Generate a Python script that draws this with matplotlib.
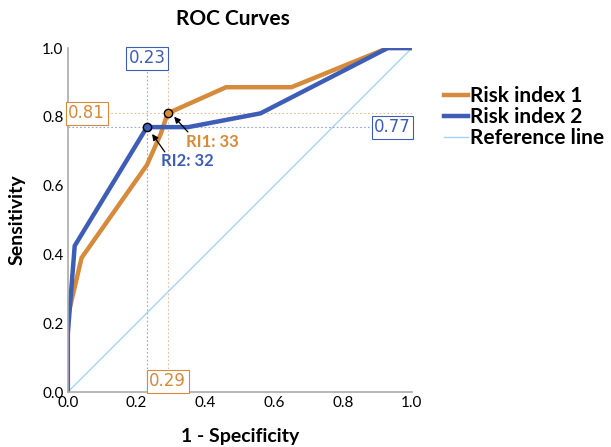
import matplotlib
matplotlib.use("Agg")
import matplotlib.pyplot as plt

plt.rcParams['font.family'] = ['Lato', 'DejaVu Sans']

# Data
ri1_fpr = [0.0, 0.0, 0.04, 0.23, 0.27, 0.29, 0.46, 0.65, 0.93, 1.0]
ri1_tpr = [0.0, 0.22, 0.39, 0.66, 0.75, 0.81, 0.886, 0.886, 1.0, 1.0]
ri2_fpr = [0.0, 0.0, 0.02, 0.23, 0.35, 0.56, 0.93, 1.0]
ri2_tpr = [0.0, 0.17, 0.425, 0.77, 0.77, 0.81, 1.0, 1.0]
ref_x = [0.0, 1.0]
ref_y = [0.0, 1.0]
labels = ["Risk index 1", "Risk index 2", "Reference line"]
ri1_cut = (0.29, 0.81)
ri2_cut = (0.23, 0.77)
ri1_text = "RI1: 33"
ri2_text = "RI2: 32"
ticks = [0.0, 0.2, 0.4, 0.6, 0.8, 1.0]

c1 = '#D58A3C'
c2 = '#3D5DB6'
c3 = '#A6D3F5'

fig = plt.figure(figsize=(6.11, 4.47), dpi=100)
ax = fig.add_axes([0.111, 0.123, 0.563, 0.7696])

# dotted guide lines
gl = dict(ls=(0, (1.5, 2)), lw=0.8, alpha=0.55)
ax.plot([ri2_cut[0], ri2_cut[0]], [0, 1], color=c2, **gl)
ax.plot([0, 1], [ri2_cut[1], ri2_cut[1]], color=c2, **gl)
ax.plot([ri1_cut[0], ri1_cut[0]], [0, 1], color=c1, **gl)
ax.plot([0, 1], [ri1_cut[1], ri1_cut[1]], color=c1, **gl)

l3, = ax.plot(ref_x, ref_y, color=c3, lw=1.0, label=labels[2])
l1, = ax.plot(ri1_fpr, ri1_tpr, color=c1, lw=3.2, label=labels[0], solid_joinstyle='miter')
l2, = ax.plot(ri2_fpr, ri2_tpr, color=c2, lw=3.2, label=labels[1], solid_joinstyle='miter')

ax.plot([ri1_cut[0]], [ri1_cut[1]], 'o', ms=6, mfc=c1, mec='black', mew=1.0, zorder=5)
ax.plot([ri2_cut[0]], [ri2_cut[1]], 'o', ms=6, mfc=c2, mec='black', mew=1.0, zorder=5)

box_kw = dict(boxstyle='square,pad=0.15', fc='white', lw=0.8)
ax.text(ri2_cut[0], 0.97, f"{ri2_cut[0]:.2f}", color=c2, fontsize=12, ha='center', va='center',
        family='DejaVu Sans', bbox=dict(ec=c2, **box_kw), zorder=6)
ax.text(0.055, ri1_cut[1], f"{ri1_cut[1]:.2f}", color=c1, fontsize=12, ha='center', va='center',
        family='DejaVu Sans', bbox=dict(ec=c1, **box_kw), zorder=6)
ax.text(0.944, ri2_cut[1], f"{ri2_cut[1]:.2f}", color=c2, fontsize=12, ha='center', va='center',
        family='DejaVu Sans', bbox=dict(ec=c2, **box_kw), zorder=6)
ax.text(ri1_cut[0], 0.032, f"{ri1_cut[0]:.2f}", color=c1, fontsize=12, ha='center', va='center',
        family='DejaVu Sans', bbox=dict(ec=c1, **box_kw), zorder=6)

ax.text(0.343, 0.727, ri1_text, color=c1, fontsize=12, fontweight='bold', ha='left', va='center')
ax.text(0.27, 0.672, ri2_text, color=c2, fontsize=12, fontweight='bold', ha='left', va='center')
arr = dict(arrowstyle='-|>', color='black', lw=0.9, mutation_scale=9, shrinkA=0, shrinkB=0)
ax.annotate('', xy=(0.309, 0.800), xytext=(0.349, 0.756), arrowprops=arr)
ax.annotate('', xy=(0.245, 0.750), xytext=(0.282, 0.698), arrowprops=arr)

ax.set_xlim(0, 1)
ax.set_ylim(0, 1)
ax.set_xticks(ticks)
ax.set_yticks(ticks)
ax.set_xticklabels([f"{t:.1f}" for t in ticks])
ax.set_yticklabels([f"{t:.1f}" for t in ticks])
ax.tick_params(length=0, labelsize=11, pad=3)
for s in ['top', 'right']:
    ax.spines[s].set_visible(False)
for s in ['left', 'bottom']:
    ax.spines[s].set_color('#AAAAAA')
    ax.spines[s].set_linewidth(1.2)

ax.set_xlabel("1 - Specificity", fontsize=14, fontweight='bold', labelpad=13)
ax.set_ylabel("Sensitivity", fontsize=14, fontweight='bold', labelpad=12)
fig.text(233 / 611, 1 - 19 / 447, "ROC Curves", fontsize=15, fontweight='bold', ha='center', va='center')

leg = fig.legend(handles=[l1, l2, l3], labels=labels, loc='upper left',
                 bbox_to_anchor=(444 / 611, 1 - 86 / 447), frameon=False,
                 prop=dict(size=15, weight='bold'), handlelength=1.15, handletextpad=0.1,
                 labelspacing=0.05, borderaxespad=0, borderpad=0)

fig.savefig("out.png", dpi=100)
